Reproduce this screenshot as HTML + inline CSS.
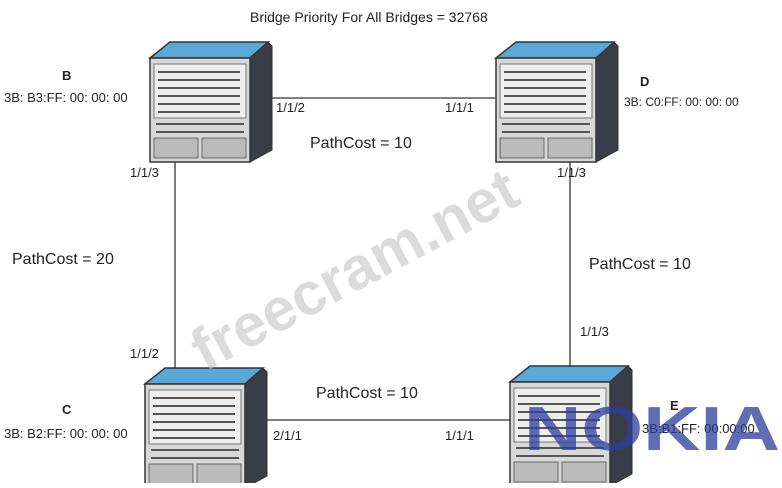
<!DOCTYPE html>
<html><head><meta charset="utf-8"><style>
body{margin:0;background:#fff;}
svg text{font-family:"Liberation Sans",sans-serif;fill:#222;}
</style></head><body>
<svg width="782" height="483" viewBox="0 0 782 483" xmlns="http://www.w3.org/2000/svg">
<defs>
<g id="sw">
 <polygon points="0,16 20,0 118,0 100,16" fill="#5aa8d8" stroke="#333" stroke-width="1.5"/>
 <polygon points="100,16 118,0 122,4 122,108 100,120" fill="#3a3d48" stroke="#333"/>
 <rect x="0" y="16" width="100" height="104" fill="#d8d8d8" stroke="#333" stroke-width="1.5"/>
 <rect x="4" y="22" width="92" height="54" fill="#eee" stroke="#777"/>
 <g stroke="#555" stroke-width="2">
  <line x1="8" y1="30" x2="90" y2="30"/><line x1="8" y1="38" x2="90" y2="38"/>
  <line x1="8" y1="46" x2="90" y2="46"/><line x1="8" y1="54" x2="90" y2="54"/>
  <line x1="8" y1="62" x2="90" y2="62"/><line x1="8" y1="70" x2="90" y2="70"/>
  <line x1="6" y1="82" x2="94" y2="82"/><line x1="6" y1="90" x2="94" y2="90"/>
 </g>
 <rect x="4" y="96" width="44" height="20" fill="#bbb" stroke="#666"/>
 <rect x="52" y="96" width="44" height="20" fill="#bbb" stroke="#666"/>
</g>
</defs>
<text x="250" y="22" font-size="14">Bridge Priority For All Bridges =  32768</text>
<g stroke="#333" stroke-width="1.3">
 <line x1="272" y1="98" x2="495" y2="98"/>
 <line x1="175" y1="160" x2="175" y2="368"/>
 <line x1="570" y1="160" x2="570" y2="366"/>
 <line x1="265" y1="420" x2="510" y2="420"/>
</g>
<use href="#sw" x="150" y="42"/>
<use href="#sw" x="496" y="42"/>
<use href="#sw" x="145" y="368"/>
<use href="#sw" x="510" y="366"/>
<g font-size="13">
<text x="62" y="80" font-weight="bold">B</text>
<text x="4" y="102">3B: B3:FF: 00: 00: 00</text>
<text x="640" y="86" font-weight="bold">D</text>
<text x="624" y="106" font-size="12">3B: C0:FF: 00: 00: 00</text>
<text x="62" y="414" font-weight="bold">C</text>
<text x="4" y="438">3B: B2:FF: 00: 00: 00</text>
<text x="670" y="410" font-weight="bold">E</text>
<text x="642" y="433">3B:B1:FF: 00:00:00</text>
<text x="276" y="112">1/1/2</text>
<text x="445" y="112">1/1/1</text>
<text x="130" y="177">1/1/3</text>
<text x="557" y="177">1/1/3</text>
<text x="130" y="358">1/1/2</text>
<text x="580" y="336">1/1/3</text>
<text x="273" y="440">2/1/1</text>
<text x="445" y="440">1/1/1</text>
</g>
<g font-size="16">
<text x="310" y="148">PathCost = 10</text>
<text x="12" y="264">PathCost = 20</text>
<text x="589" y="269">PathCost = 10</text>
<text x="316" y="398">PathCost = 10</text>
</g>
<text x="205" y="372" font-size="60" font-weight="bold" transform="rotate(-28 205 372)" style="fill:#c4c4c4;opacity:.6">freecram.net</text>
<text x="524" y="450" font-size="62" font-weight="bold" style="fill:#2c3c9c;opacity:.75" textLength="256" lengthAdjust="spacingAndGlyphs">NOKIA</text>
</svg>
</body></html>
